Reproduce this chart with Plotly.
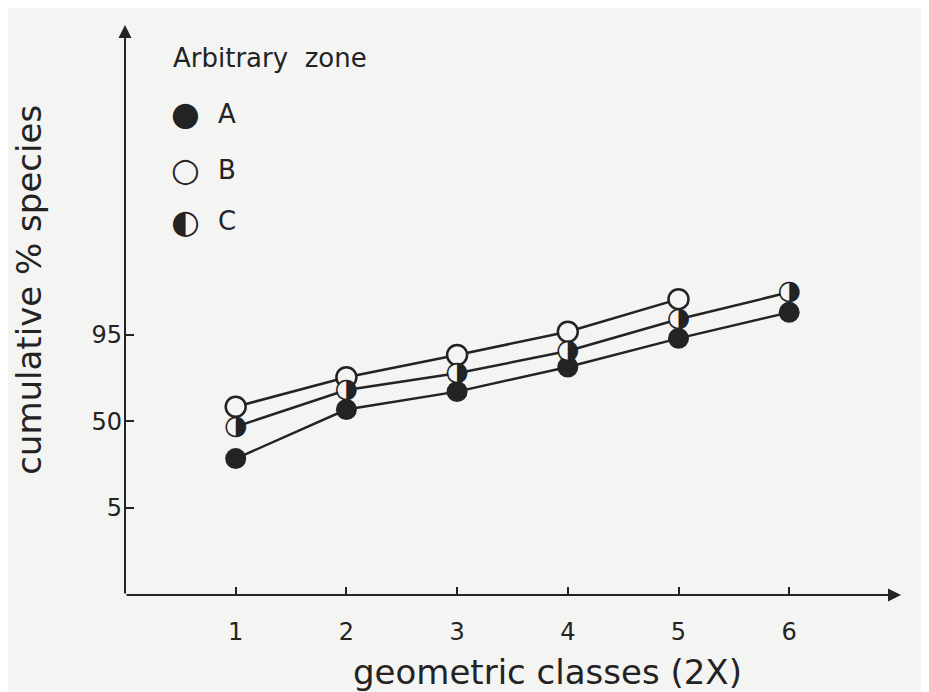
import plotly.graph_objects as go
from statistics import NormalDist

# ---- data (cumulative % species) ----
classes = [1, 2, 3, 4, 5, 6]
zone_A = [24, 59, 71.5, 85, 94.3, 98.1]
zone_B = [61, 80, 89.7, 95.6, 99.0, None]
zone_C = [46, 72.5, 82, 91, 97.4, 99.3]
y_ticks = [5, 50, 95]
x_ticks = [1, 2, 3, 4, 5, 6]

_nd = NormalDist()


def probit(p):
    return None if p is None else _nd.inv_cdf(p / 100.0)


BG = "#f4f4f2"
INK = "#232323"
FONT = "DejaVu Sans"

X_RANGE = [0, 7.01]
Y_RANGE = [-3.30, 7.54]

fig = go.Figure()

# zone A: filled circles
fig.add_trace(go.Scatter(
    x=classes, y=[probit(v) for v in zone_A], mode="lines+markers",
    line=dict(color=INK, width=2.5),
    marker=dict(symbol="circle", size=21, color=INK, line=dict(width=0)),
    showlegend=False, cliponaxis=False))

# zone B: open circles
fig.add_trace(go.Scatter(
    x=classes, y=[probit(v) for v in zone_B], mode="lines+markers",
    line=dict(color=INK, width=2.5),
    marker=dict(symbol="circle", size=20, color=BG, line=dict(width=2.5, color=INK)),
    showlegend=False, cliponaxis=False))

# zone C: half-filled circles
fig.add_trace(go.Scatter(
    x=classes, y=[probit(v) for v in zone_C], mode="lines+markers+text",
    line=dict(color=INK, width=2.5),
    marker=dict(symbol="circle", size=18, color=BG, line=dict(width=0)),
    text=["\u25d1"] * len(classes), textposition="middle center",
    textfont=dict(family=FONT, size=27, color=INK),
    showlegend=False, cliponaxis=False))

# axis arrows
fig.add_annotation(x=X_RANGE[1], y=Y_RANGE[0], ax=X_RANGE[0], ay=Y_RANGE[0],
                   xref="x", yref="y", axref="x", ayref="y", text="",
                   showarrow=True, arrowhead=2, arrowsize=1.3, arrowwidth=2,
                   arrowcolor=INK, standoff=0, startstandoff=0)
fig.add_annotation(x=X_RANGE[0], y=Y_RANGE[1], ax=X_RANGE[0], ay=Y_RANGE[0],
                   xref="x", yref="y", axref="x", ayref="y", text="",
                   showarrow=True, arrowhead=2, arrowsize=1.3, arrowwidth=2,
                   arrowcolor=INK, standoff=0, startstandoff=0)

# legend (drawn as text)
fig.add_annotation(x=0.0593, y=0.942, xref="paper", yref="paper",
                   text="Arbitrary  zone", showarrow=False, xanchor="left",
                   yanchor="middle", font=dict(family=FONT, size=26, color=INK))
legend_items = [("\u25cf", "A", 0.844), ("\u25cb", "B", 0.746), ("\u25d0", "C", 0.656)]
for sym, lab, yy in legend_items:
    fig.add_annotation(x=0.0786, y=yy, xref="paper", yref="paper", text=sym,
                       showarrow=False, xanchor="center", yanchor="middle",
                       font=dict(family=FONT, size=33, color=INK))
    fig.add_annotation(x=0.1175, y=yy, xref="paper", yref="paper", text=lab,
                       showarrow=False, xanchor="left", yanchor="middle",
                       font=dict(family=FONT, size=26, color=INK))

# axis titles
fig.add_annotation(x=-0.124, y=0.535, xref="paper", yref="paper",
                   text="cumulative % species", textangle=-90, showarrow=False,
                   xanchor="center", yanchor="middle",
                   font=dict(family=FONT, size=34, color=INK))
fig.add_annotation(x=0.545, y=-0.135, xref="paper", yref="paper",
                   text="geometric classes (2X)", showarrow=False,
                   xanchor="center", yanchor="middle",
                   font=dict(family=FONT, size=34, color=INK))

fig.update_xaxes(range=X_RANGE, tickvals=x_ticks, ticktext=[str(t) for t in x_ticks],
                 ticks="inside", ticklen=8, tickwidth=2, tickcolor=INK,
                 showgrid=False, zeroline=False, showline=False,
                 tickfont=dict(family=FONT, size=24, color=INK),
                 ticklabelstandoff=20)
fig.update_yaxes(range=Y_RANGE, tickvals=[probit(v) for v in y_ticks],
                 ticktext=[str(v) for v in y_ticks],
                 ticks="inside", ticklen=9, tickwidth=2, tickcolor=INK,
                 showgrid=False, zeroline=False, showline=False,
                 tickfont=dict(family=FONT, size=24, color=INK),
                 ticklabelstandoff=2)

# the page adds an 8px body margin; the figure is sized to compensate
fig.update_layout(width=921, height=684,
                  margin=dict(l=117, r=28, t=17, b=97, autoexpand=False),
                  paper_bgcolor=BG, plot_bgcolor=BG, showlegend=False)

fig.write_html("out.html")
